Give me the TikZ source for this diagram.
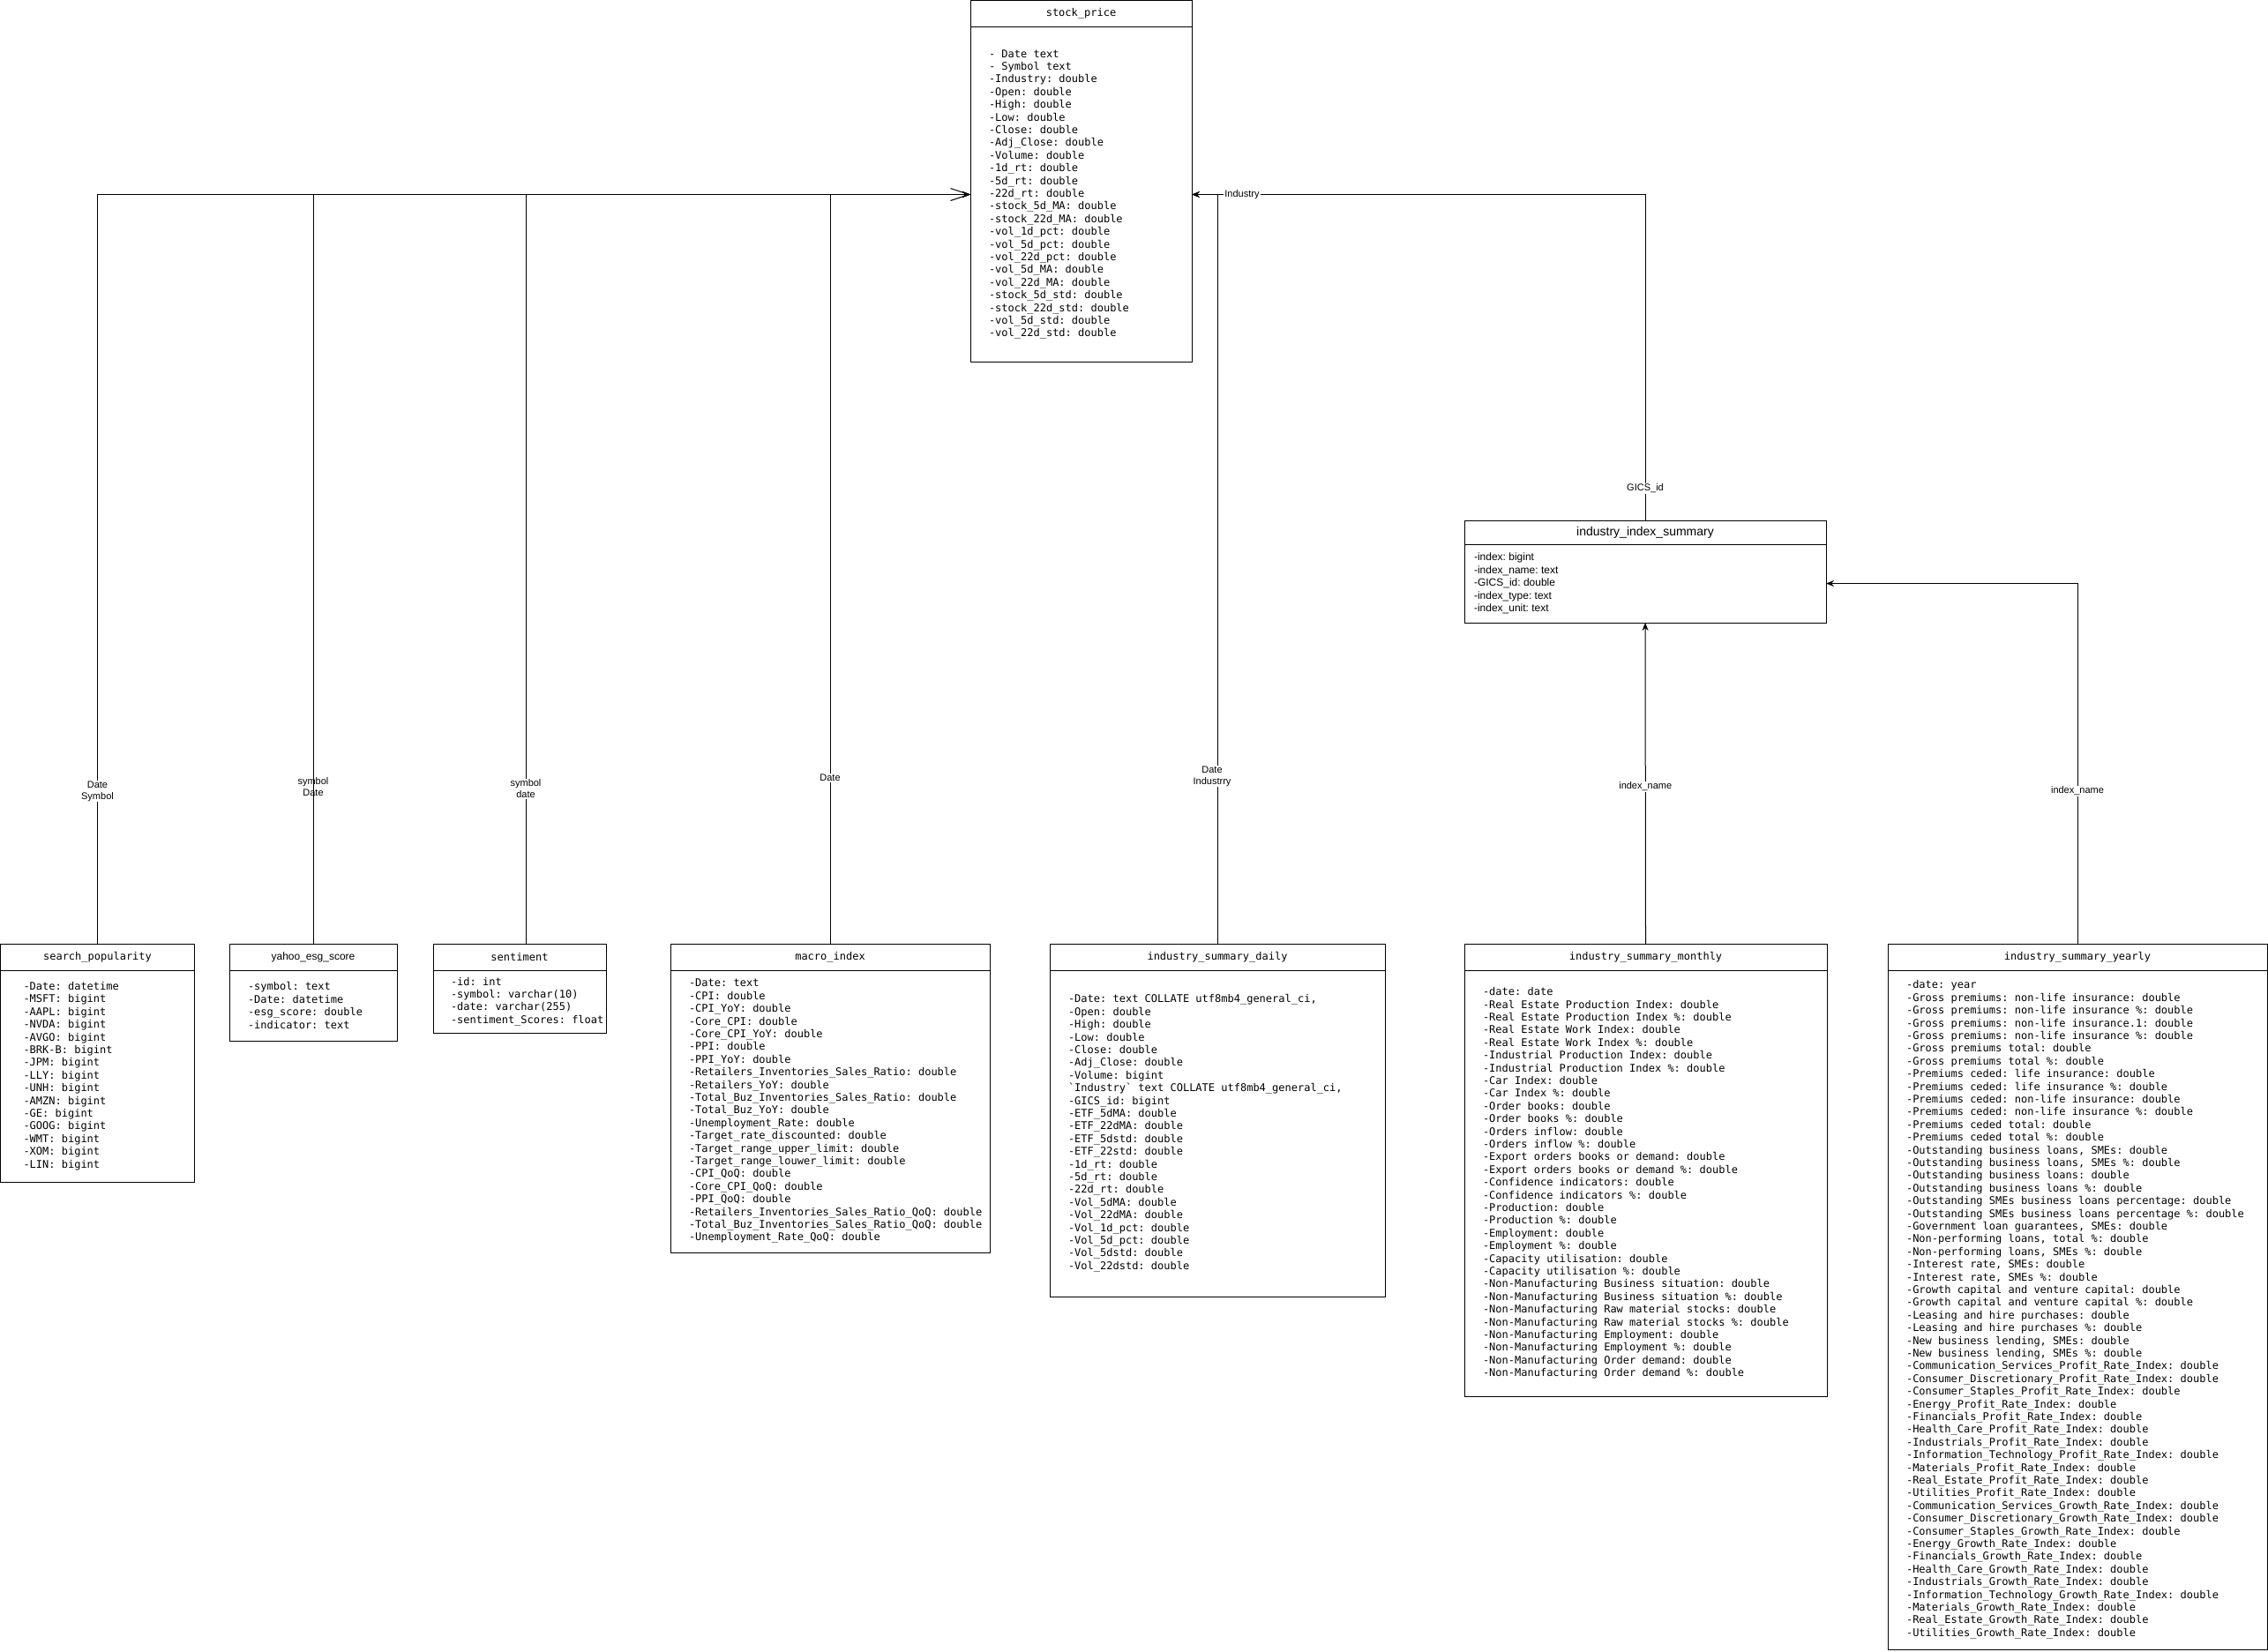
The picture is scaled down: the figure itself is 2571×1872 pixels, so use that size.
\documentclass[tikz,border=0pt]{standalone}
\usepackage{fontspec}
\setsansfont{Liberation Sans}
\setmonofont{DejaVu Sans Mono}
\usetikzlibrary{arrows.meta,positioning}
\newcommand\tblfont{\ttfamily\fontsize{12pt}{14.4pt}\selectfont
  \spaceskip=\fontcharwd\font`x\relax\xspaceskip=\spaceskip}
\newcommand\tblsans{\sffamily\fontsize{12pt}{14.4pt}\selectfont}
\newcommand\lblfont{\sffamily\fontsize{11pt}{13pt}\selectfont}
\tikzset{
  thead/.style={rectangle,draw,minimum width=#1,minimum height=30pt,
    inner sep=0pt,outer sep=0pt,anchor=north west,font=\tblfont},
  tbody/.style 2 args={rectangle,draw,text width=#1,minimum height=#2,
    inner xsep=0pt,inner ysep=0pt,outer sep=0pt,align=flush left,font=\tblfont,
    execute at begin node={\leftskip=21pt}},
  lskip/.style={execute at begin node={\leftskip=#1}},
  fk/.style={-{Stealth[length=9pt,width=7pt]}},
  fkopen/.style={-{Straight Barb[length=21pt,width=14pt]}},
  lbl/.style={font=\lblfont,fill=white,inner sep=1pt,align=center},
}
\begin{document}
\catcode`\_=12
\frenchspacing
\begin{tikzpicture}[x=1pt,y=-1pt,line width=1pt]
  \useasboundingbox (0,0) rectangle (2571,1872);

  % central table
  \node[thead=251pt] (sphead) at (1100,0.5) {stock_price};
  \node[tbody={251pt}{380pt},below=0pt of sphead] (spbody)
    {- Date text\\- Symbol text\\-Industry: double\\-Open: double\\-High: double\\
     -Low: double\\-Close: double\\-Adj_Close: double\\-Volume: double\\
     -1d_rt: double\\-5d_rt: double\\-22d_rt: double\\-stock_5d_MA: double\\
     -stock_22d_MA: double\\-vol_1d_pct: double\\-vol_5d_pct: double\\
     -vol_22d_pct: double\\-vol_5d_MA: double\\-vol_22d_MA: double\\
     -stock_5d_std: double\\-stock_22d_std: double\\-vol_5d_std: double\\
     -vol_22d_std: double};

  % index lookup table
  \node[thead=410pt,minimum height=27pt,font=\sffamily\fontsize{14pt}{16.8pt}\selectfont]
    (idxhead) at (1660,590) {industry_index_summary};
  \node[tbody={410pt}{89pt},font=\tblsans,lskip=11pt,below=0pt of idxhead] (idxbody)
    {-index: bigint\\-index_name: text\\-GICS_id: double\\-index_type: text\\-index_unit: text};

  % bottom row of tables
  \node[thead=220pt] (srchhead) at (0.5,1070) {search_popularity};
  \node[tbody={220pt}{240pt},lskip=26pt,below=0pt of srchhead] (srchbody)
    {-Date: datetime\\-MSFT: bigint\\-AAPL: bigint\\-NVDA: bigint\\-AVGO: bigint\\
     -BRK-B: bigint\\-JPM: bigint\\-LLY: bigint\\-UNH: bigint\\-AMZN: bigint\\
     -GE: bigint\\-GOOG: bigint\\-WMT: bigint\\-XOM: bigint\\-LIN: bigint};

  \node[thead=190pt,font=\tblsans] (esghead) at (260,1070) {yahoo_esg_score};
  \node[tbody={190pt}{80pt},below=0pt of esghead] (esgbody)
    {-symbol: text\\-Date: datetime\\-esg_score: double\\-indicator: text};

  \node[thead=196pt] (senthead) at (491,1070) {sentiment};
  \node[tbody={196pt}{71pt},lskip=20pt,below=0pt of senthead] (sentbody)
    {-id: int\\-symbol: varchar(10)\\-date: varchar(255)\\-sentiment_Scores: float};

  \node[thead=362pt] (machead) at (760,1070) {macro_index};
  \node[tbody={362pt}{320pt},below=0pt of machead] (macbody)
    {-Date: text\\-CPI: double\\-CPI_YoY: double\\-Core_CPI: double\\
     -Core_CPI_YoY: double\\-PPI: double\\-PPI_YoY: double\\
     -Retailers_Inventories_Sales_Ratio: double\\-Retailers_YoY: double\\
     -Total_Buz_Inventories_Sales_Ratio: double\\-Total_Buz_YoY: double\\
     -Unemployment_Rate: double\\-Target_rate_discounted: double\\
     -Target_range_upper_limit: double\\-Target_range_louwer_limit: double\\
     -CPI_QoQ: double\\-Core_CPI_QoQ: double\\-PPI_QoQ: double\\
     -Retailers_Inventories_Sales_Ratio_QoQ: double\\
     -Total_Buz_Inventories_Sales_Ratio_QoQ: double\\-Unemployment_Rate_QoQ: double};

  \node[thead=380pt] (dayhead) at (1190,1070) {industry_summary_daily};
  \node[tbody={380pt}{370pt},below=0pt of dayhead] (daybody)
    {-Date: text COLLATE utf8mb4_general_ci,\\-Open: double\\-High: double\\
     -Low: double\\-Close: double\\-Adj_Close: double\\-Volume: bigint\\
     `Industry` text COLLATE utf8mb4_general_ci,\\-GICS_id: bigint\\
     -ETF_5dMA: double\\-ETF_22dMA: double\\-ETF_5dstd: double\\-ETF_22std: double\\
     -1d_rt: double\\-5d_rt: double\\-22d_rt: double\\-Vol_5dMA: double\\
     -Vol_22dMA: double\\-Vol_1d_pct: double\\-Vol_5d_pct: double\\
     -Vol_5dstd: double\\-Vol_22dstd: double};

  \node[thead=411pt] (monhead) at (1660,1070) {industry_summary_monthly};
  \node[tbody={411pt}{483pt},below=0pt of monhead] (monbody)
    {-date: date\\-Real Estate Production Index: double\\
     -Real Estate Production Index \%: double\\-Real Estate Work Index: double\\
     -Real Estate Work Index \%: double\\-Industrial Production Index: double\\
     -Industrial Production Index \%: double\\-Car Index: double\\
     -Car Index \%: double\\-Order books: double\\-Order books \%: double\\
     -Orders inflow: double\\-Orders inflow \%: double\\
     -Export orders books or demand: double\\-Export orders books or demand \%: double\\
     -Confidence indicators: double\\-Confidence indicators \%: double\\
     -Production: double\\-Production \%: double\\-Employment: double\\
     -Employment \%: double\\-Capacity utilisation: double\\
     -Capacity utilisation \%: double\\-Non-Manufacturing Business situation: double\\
     -Non-Manufacturing Business situation \%: double\\
     -Non-Manufacturing Raw material stocks: double\\
     -Non-Manufacturing Raw material stocks \%: double\\
     -Non-Manufacturing Employment: double\\-Non-Manufacturing Employment \%: double\\
     -Non-Manufacturing Order demand: double\\-Non-Manufacturing Order demand \%: double};

  \node[thead=430pt] (yrhead) at (2140,1070) {industry_summary_yearly};
  \node[tbody={430pt}{770pt},below=0pt of yrhead] (yrbody)
    {-date: year\\-Gross premiums: non-life insurance: double\\
     -Gross premiums: non-life insurance \%: double\\
     -Gross premiums: non-life insurance.1: double\\
     -Gross premiums: non-life insurance \%: double\\
     -Gross premiums total: double\\-Gross premiums total \%: double\\
     -Premiums ceded: life insurance: double\\-Premiums ceded: life insurance \%: double\\
     -Premiums ceded: non-life insurance: double\\
     -Premiums ceded: non-life insurance \%: double\\
     -Premiums ceded total: double\\-Premiums ceded total \%: double\\
     -Outstanding business loans, SMEs: double\\
     -Outstanding business loans, SMEs \%: double\\
     -Outstanding business loans: double\\-Outstanding business loans \%: double\\
     -Outstanding SMEs business loans percentage: double\\
     -Outstanding SMEs business loans percentage \%: double\\
     -Government loan guarantees, SMEs: double\\
     -Non-performing loans, total \%: double\\-Non-performing loans, SMEs \%: double\\
     -Interest rate, SMEs: double\\-Interest rate, SMEs \%: double\\
     -Growth capital and venture capital: double\\
     -Growth capital and venture capital \%: double\\
     -Leasing and hire purchases: double\\-Leasing and hire purchases \%: double\\
     -New business lending, SMEs: double\\-New business lending, SMEs \%: double\\
     -Communication_Services_Profit_Rate_Index: double\\
     -Consumer_Discretionary_Profit_Rate_Index: double\\
     -Consumer_Staples_Profit_Rate_Index: double\\-Energy_Profit_Rate_Index: double\\
     -Financials_Profit_Rate_Index: double\\-Health_Care_Profit_Rate_Index: double\\
     -Industrials_Profit_Rate_Index: double\\
     -Information_Technology_Profit_Rate_Index: double\\
     -Materials_Profit_Rate_Index: double\\-Real_Estate_Profit_Rate_Index: double\\
     -Utilities_Profit_Rate_Index: double\\
     -Communication_Services_Growth_Rate_Index: double\\
     -Consumer_Discretionary_Growth_Rate_Index: double\\
     -Consumer_Staples_Growth_Rate_Index: double\\-Energy_Growth_Rate_Index: double\\
     -Financials_Growth_Rate_Index: double\\-Health_Care_Growth_Rate_Index: double\\
     -Industrials_Growth_Rate_Index: double\\
     -Information_Technology_Growth_Rate_Index: double\\
     -Materials_Growth_Rate_Index: double\\-Real_Estate_Growth_Rate_Index: double\\
     -Utilities_Growth_Rate_Index: double};

  % links into stock_price
  \draw[fkopen] (srchhead.north) |- node[lbl,pos=0.1018] {Date\\Symbol} (spbody.west);
  \draw[fk] (esghead.north) |- node[lbl,fill=none,pos=0.1047] {symbol\\Date} (spbody.west);
  \draw[fk] ([xshift=7pt]senthead.north) |- node[lbl,pos=0.1035] {symbol\\date} (spbody.west);
  \draw[fk] (machead.north) |- node[lbl,pos=0.1106] {Date} (spbody.west);
  \draw[fk] (dayhead.north) |- node[lbl,pos=0.1118,xshift=-6pt] {Date\\Industrry} (spbody.east);
  \draw[fk] (idxhead.north) |- node[lbl,pos=0.0486] {GICS_id}
    node[lbl,pos=0.9446] {Industry} (spbody.east);

  % links into industry_index_summary
  \draw[fk] (monhead.north) -- node[lbl,pos=0.489] {index_name} (idxbody.south);
  \draw[fk] (yrhead.north) |- node[lbl,pos=0.212] {index_name} (idxbody.east);
\end{tikzpicture}
\end{document}
